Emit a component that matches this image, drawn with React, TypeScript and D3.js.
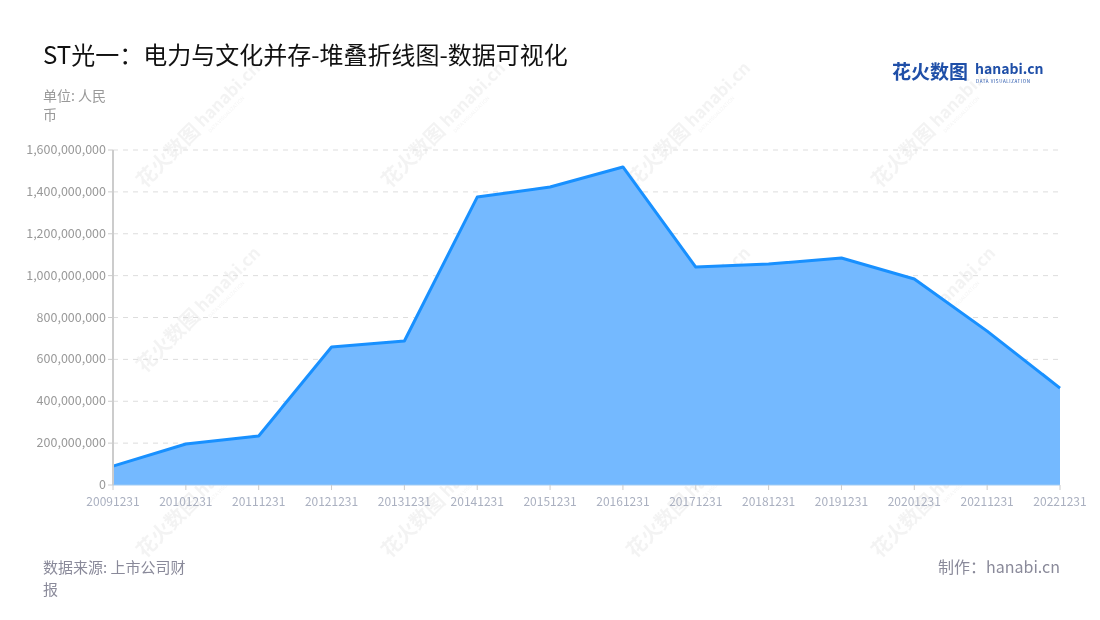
import React from "react";
import * as d3 from "d3";

const categories = ["20091231","20101231","20111231","20121231","20131231","20141231","20151231","20161231","20171231","20181231","20191231","20201231","20211231","20221231"];
const values = [90e6, 196e6, 234e6, 659e6, 688e6, 1375e6, 1423e6, 1519e6, 1041e6, 1055e6, 1084e6, 984e6, 735e6, 463e6];
const yTicks = [0, 200e6, 400e6, 600e6, 800e6, 1000e6, 1200e6, 1400e6, 1600e6];

const W = 1100, H = 620;
const L = 113, R = 1060, T = 150, B = 485;
const font = "'Noto Sans CJK SC', 'Noto Sans', sans-serif";

export default function App() {
  const x = d3.scalePoint<string>().domain(categories).range([L, R]);
  const y = d3.scaleLinear().domain([0, 1600e6]).range([B, T]);
  const pts = categories.map((c, i) => [x(c)!, y(values[i])] as [number, number]);
  const area = d3.area<[number, number]>().x(d => d[0]).y0(B).y1(d => d[1])(pts)!;
  const line = d3.line<[number, number]>().x(d => d[0]).y(d => d[1])(pts)!;
  const fmt = d3.format(",");

  const wmCols = [190, 435, 680, 925];
  const wmRows = [135, 320, 505];

  return (
    <svg width={W} height={H} style={{ position: "absolute", left: 0, top: 0, background: "#fff" }} fontFamily={font}>
      {/* watermarks */}
      <g opacity={0.07} fill="#555">
        {wmRows.map((ry, ri) => wmCols.map((cx, ci) => (
          <g key={ri + "-" + ci} transform={`translate(${cx},${ry}) rotate(-45)`}>
            <text x={-70} y={6} fontSize={20} fontWeight="bold">花火数图</text>
            <text x={14} y={4} fontSize={17} fontWeight="bold">hanabi.cn</text>
            <text x={16} y={13} fontSize={5}>DATA VISUALIZATION</text>
          </g>
        )))}
      </g>
      <text x={43} y={64} fontSize={24} fill="#111">ST光一：电力与文化并存-堆叠折线图-数据可视化</text>
      {/* logo */}
      <text x={892} y={79} fontSize={19} fontWeight="bold" fill="#1f4fa8">花火数图</text>
      <text x={975} y={74} fontSize={14} fontWeight="bold" fill="#1f4fa8">hanabi.cn</text>
      <text x={976} y={82.5} fontSize={4.5} fill="#1f4fa8" letterSpacing={0.6}>DATA VISUALIZATION</text>
      <text x={43} y={101} fontSize={14} fill="#999">单位: 人民</text>
      <text x={43} y={120} fontSize={14} fill="#999">币</text>
      {/* grid */}
      {yTicks.map(t => (
        <g key={t}>
          {t > 0 && <line x1={L} x2={R} y1={y(t)} y2={y(t)} stroke="#ddd" strokeDasharray="5,5" />}
          <line x1={L - 5} x2={L} y1={y(t)} y2={y(t)} stroke="#ccc" />
          <text x={L - 7} y={y(t) + 4} fontSize={12.5} textAnchor="end" fill="#999">{fmt(t)}</text>
        </g>
      ))}
      <path d={area} fill="#74b9ff" />
      <path d={line} fill="none" stroke="#1890ff" strokeWidth={3} strokeLinejoin="round" />
      <line x1={L} x2={L} y1={T} y2={B} stroke="#ccc" strokeWidth={2} />
      <line x1={L} x2={R} y1={B} y2={B} stroke="#9fcaf3" strokeWidth={1} />
      {categories.map(c => (
        <g key={c}>
          <line x1={x(c)!} x2={x(c)!} y1={B} y2={B + 5} stroke="#ccc" />
          <text x={x(c)!} y={B + 21} fontSize={12} textAnchor="middle" fill="#aab0c0">{c}</text>
        </g>
      ))}
      <text x={43} y={573} fontSize={15} fill="#8a8a9a">数据来源: 上市公司财</text>
      <text x={43} y={595} fontSize={15} fill="#8a8a9a">报</text>
      <text x={R} y={573} fontSize={16} fill="#8a8a9a" textAnchor="end">制作：hanabi.cn</text>
    </svg>
  );
}
